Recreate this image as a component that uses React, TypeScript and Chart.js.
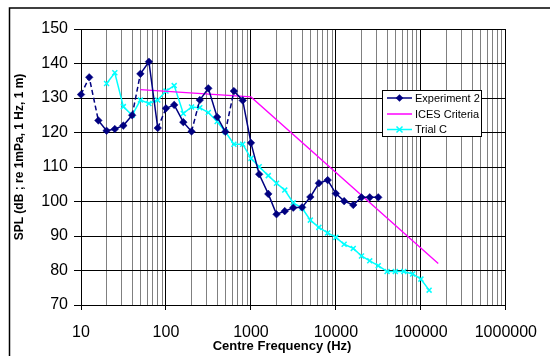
import React, { useEffect, useRef } from 'react';
import { Chart, registerables } from 'chart.js';
Chart.register(...registerables);

// ---- data ----
const expFreq = [10, 12.5, 16, 20, 25, 31.5, 40, 50, 63, 80, 100, 125, 160, 200, 250, 315, 400, 500, 630, 800, 1000, 1250, 1600, 2000, 2500, 3150, 4000, 5000, 6300, 8000, 10000, 12500, 16000, 20000, 25000, 31500];
const expVals = [131, 136, 123.5, 120.5, 121, 122, 125, 137, 140.5, 121.3, 127, 128, 123, 120.3, 129.4, 132.8, 124.5, 120.2, 132, 129.3, 117, 107.9, 102.2, 96.3, 97.2, 98.2, 98.3, 101.3, 105.3, 106.2, 102.3, 100.1, 99, 101.2, 101.2, 101.2];
// indices of segments (start point) that appear dashed in the reference
const expDashedSegments = [0, 1, 6, 9, 13, 17];

const icesFreq = [50, 1000, 160000];
const icesVals = [132.4, 130.3, 82];

const trialFreq = [20, 25, 31.5, 40, 50, 63, 80, 100, 125, 160, 200, 250, 315, 400, 500, 630, 800, 1000, 1250, 1600, 2000, 2500, 3150, 4000, 5000, 6300, 8000, 10000, 12500, 16000, 20000, 25000, 31500, 40000, 50000, 63000, 80000, 100000, 125000];
const trialVals = [134.2, 137.3, 127.5, 125, 129.4, 128.4, 129.4, 132, 133.6, 125.5, 127.4, 127.2, 125.8, 123.2, 120.2, 116.6, 116.6, 112.5, 110.1, 107.5, 105.3, 103.3, 99.6, 98.1, 94.6, 92.5, 90.9, 89.6, 87.6, 86.4, 84.2, 82.8, 81.4, 79.7, 79.7, 79.7, 79, 77.5, 74.3];

const xMajorTicks = [10, 100, 1000, 10000, 100000, 1000000];
const xMinorMultipliers = [2, 3, 4, 5, 6, 7, 8, 9];
const yMin = 70;
const yMax = 150;
const yStep = 10;

const seriesNames = ['Experiment 2', 'ICES Criteria', 'Trial C'];
const xTitle = 'Centre Frequency (Hz)';
const yTitle = 'SPL (dB ; re 1mPa, 1 Hz, 1 m)';

const FONT = '"Liberation Sans", Arial, Helvetica, sans-serif';
const NAVY = '#000080';
const MAGENTA = '#FF00FF';
const CYAN = '#00FFFF';

const isMajor = (v: number) => xMajorTicks.some((m) => Math.abs(m - v) < 1e-6 * m);

function drawMarker(ctx: CanvasRenderingContext2D, kind: string, x: number, y: number, color: string) {
  ctx.save();
  if (kind === 'diamond') {
    const r = 3.8;
    ctx.fillStyle = color;
    ctx.beginPath();
    ctx.moveTo(x, y - r);
    ctx.lineTo(x + r, y);
    ctx.lineTo(x, y + r);
    ctx.lineTo(x - r, y);
    ctx.closePath();
    ctx.fill();
  } else if (kind === 'x') {
    const r = 3;
    ctx.strokeStyle = color;
    ctx.lineWidth = 1.5;
    ctx.beginPath();
    ctx.moveTo(x - r, y - r);
    ctx.lineTo(x + r, y + r);
    ctx.moveTo(x + r, y - r);
    ctx.lineTo(x - r, y + r);
    ctx.stroke();
  }
  ctx.restore();
}

const decorPlugin = {
  id: 'decor',
  afterDraw(chart: any) {
    const ctx: CanvasRenderingContext2D = chart.ctx;
    ctx.save();
    // outer chart border (left and top visible)
    ctx.strokeStyle = '#000';
    ctx.lineWidth = 1.5;
    ctx.beginPath();
    ctx.moveTo(9.5, 356);
    ctx.lineTo(9.5, 8);
    ctx.lineTo(550, 8);
    ctx.stroke();

    // axis titles
    ctx.fillStyle = '#000';
    ctx.textAlign = 'center';
    ctx.textBaseline = 'middle';
    ctx.font = `bold 13px ${FONT}`;
    ctx.fillText(xTitle, 282, 346);
    ctx.save();
    ctx.translate(20, 157);
    ctx.rotate(-Math.PI / 2);
    ctx.font = `bold 12px ${FONT}`;
    ctx.fillText(yTitle, 0, 0);
    ctx.restore();

    // legend
    const bx = 382.5, by = 90.5, bw = 99, bh = 46;
    ctx.fillStyle = '#fff';
    ctx.fillRect(bx, by, bw, bh);
    ctx.strokeStyle = '#000';
    ctx.lineWidth = 1;
    ctx.strokeRect(bx, by, bw, bh);
    const rows = [98, 114, 129.5];
    const colors = [NAVY, MAGENTA, CYAN];
    const markers = ['diamond', '', 'x'];
    rows.forEach((ry, i) => {
      ctx.strokeStyle = colors[i];
      ctx.lineWidth = 1.5;
      ctx.beginPath();
      ctx.moveTo(387, ry);
      ctx.lineTo(412, ry);
      ctx.stroke();
      if (markers[i]) drawMarker(ctx, markers[i], 399.5, ry, colors[i]);
      ctx.fillStyle = '#000';
      ctx.textAlign = 'left';
      ctx.textBaseline = 'middle';
      ctx.font = `11px ${FONT}`;
      ctx.fillText(seriesNames[i], 415, ry + 0.5);
    });
    ctx.restore();
  },
};

export default function App() {
  const ref = useRef<HTMLCanvasElement>(null);
  useEffect(() => {
    const xGridTicks: number[] = [];
    xMajorTicks.forEach((m, i) => {
      xGridTicks.push(m);
      if (i < xMajorTicks.length - 1) xMinorMultipliers.forEach((k) => xGridTicks.push(m * k));
    });
    const chart = new Chart(ref.current!, {
      type: 'line',
      data: {
        datasets: [
          {
            label: seriesNames[0],
            data: expFreq.map((f, i) => ({ x: f, y: expVals[i] })),
            borderColor: NAVY,
            backgroundColor: NAVY,
            borderWidth: 1.5,
            pointStyle: 'rectRot',
            pointRadius: 3.8,
            pointBorderWidth: 0.5,
            pointBackgroundColor: NAVY,
            pointBorderColor: NAVY,
            tension: 0,
            clip: false,
            segment: {
              borderDash: (c: any) => (expDashedSegments.includes(c.p0DataIndex) ? [5, 3] : []),
            },
          } as any,
          {
            label: seriesNames[1],
            data: icesFreq.map((f, i) => ({ x: f, y: icesVals[i] })),
            borderColor: MAGENTA,
            backgroundColor: MAGENTA,
            borderWidth: 1.3,
            pointRadius: 0,
            tension: 0,
            clip: false,
          },
          {
            label: seriesNames[2],
            data: trialFreq.map((f, i) => ({ x: f, y: trialVals[i] })),
            borderColor: CYAN,
            backgroundColor: CYAN,
            borderWidth: 1.5,
            pointStyle: 'crossRot',
            pointRadius: 3.5,
            pointBorderWidth: 1.5,
            pointBorderColor: CYAN,
            tension: 0,
            clip: false,
          },
        ],
      },
      options: {
        animation: false,
        responsive: false,
        maintainAspectRatio: false,
        layout: { padding: { left: 0, top: 29, right: 43, bottom: 0 } },
        plugins: { legend: { display: false }, tooltip: { enabled: false } },
        scales: {
          x: {
            type: 'logarithmic',
            min: 10,
            max: 1000000,
            afterFit: (s: any) => {
              s.height = 51;
            },
            afterBuildTicks: (s: any) => {
              s.ticks = xGridTicks.map((v) => ({ value: v }));
            },
            ticks: {
              autoSkip: false,
              maxRotation: 0,
              minRotation: 0,
              padding: 13,
              color: '#000',
              font: { family: FONT, size: 16 },
              callback: (v: any) => (isMajor(Number(v)) ? String(v) : ''),
            },
            grid: {
              color: (c: any) => (c.tick && isMajor(c.tick.value) ? '#000' : '#808080'),
              tickColor: (c: any) => (c.tick && isMajor(c.tick.value) ? '#000' : 'rgba(0,0,0,0)'),
              lineWidth: 1,
              tickLength: 5,
            },
            border: { color: '#000', width: 1 },
          },
          y: {
            min: yMin,
            max: yMax,
            afterFit: (s: any) => {
              s.width = 81;
            },
            ticks: {
              stepSize: yStep,
              padding: 6,
              color: '#000',
              font: { family: FONT, size: 16 },
            },
            grid: { color: '#000', lineWidth: 1, tickLength: 7, tickColor: '#000' },
            border: { color: '#000', width: 1 },
          },
        },
      },
      plugins: [decorPlugin],
    } as any);
    return () => chart.destroy();
  }, []);
  return (
    <div style={{ position: 'fixed', left: 0, top: 0, width: 550, height: 356, background: '#fff' }}>
      <canvas ref={ref} width={550} height={356} style={{ display: 'block', width: 550, height: 356 }} />
    </div>
  );
}
